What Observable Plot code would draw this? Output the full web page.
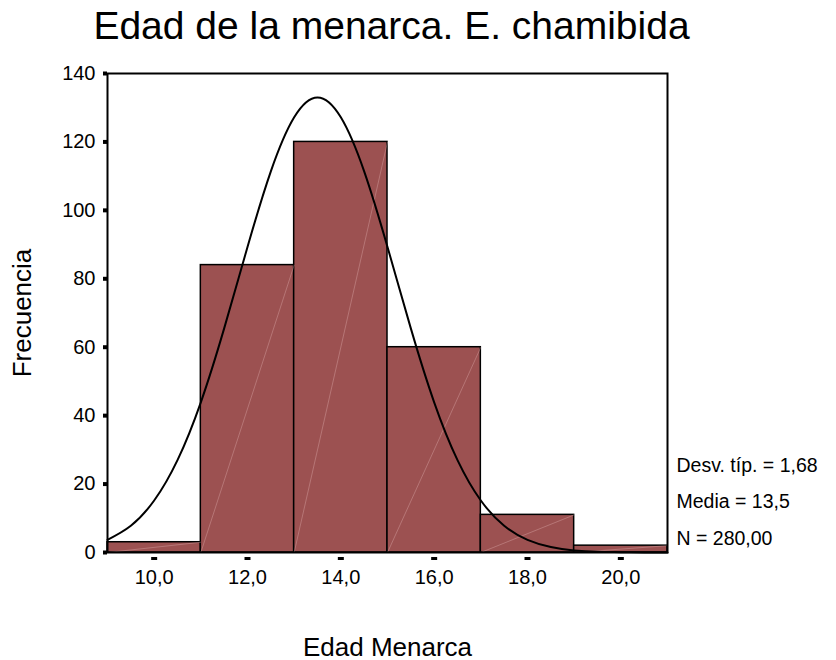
<!DOCTYPE html>
<html>
<head>
<meta charset="utf-8">
<script src="https://cdn.jsdelivr.net/npm/d3@7"></script>
<script src="https://cdn.jsdelivr.net/npm/@observablehq/plot@0.6"></script>
<style>
  html, body { margin: 0; padding: 0; background: #fff; }
  svg { display: block; }
</style>
</head>
<body>
<div id="chart"></div>
<script>
// ---- data ----
const title = "Edad de la menarca. E. chamibida";
const xLabel = "Edad Menarca";
const yLabel = "Frecuencia";
const binStart = [9, 11, 13, 15, 17, 19];
const binEnd = [11, 13, 15, 17, 19, 21];
const counts = [3, 84, 120, 60, 11, 2];
const xTicks = [10, 12, 14, 16, 18, 20];
const yTicks = [0, 20, 40, 60, 80, 100, 120, 140];
const statsLines = ["Desv. típ. = 1,68", "Media = 13,5", "N = 280,00"];
// normal curve
const curveX = [9, 9.5, 10, 10.5, 11, 11.5, 12, 12.5, 13, 13.5, 14, 14.5, 15, 15.5, 16, 16.5, 17, 17.5, 18, 18.5, 19, 19.5, 20, 20.5, 21];
const curveY = [3.7, 7.8, 15.2, 27, 43.9, 65.5, 89.3, 111.4, 127.2, 133, 127.2, 111.4, 89.3, 65.5, 43.9, 27, 15.2, 7.8, 3.7, 1.6, 0.6, 0.2, 0.1, 0, 0];

const bins = binStart.map((s, i) => ({x1: s, x2: binEnd[i], count: counts[i]}));
const curve = curveX.map((x, i) => ({x, y: curveY[i]}));
const font = "'Liberation Sans', Arial, Helvetica, sans-serif";
const fmt = d => d.toFixed(1).replace(".", ",");

const chart = Plot.plot({
  width: 836,
  height: 660,
  marginTop: 73,
  marginLeft: 107,
  marginRight: 169,
  marginBottom: 108,
  style: {fontFamily: font, fontSize: "20px", color: "#000", background: "#fff", overflow: "visible"},
  x: {domain: [9, 21]},
  y: {domain: [0, 140]},
  marks: [
    Plot.rectY(bins, {x1: "x1", x2: "x2", y1: () => 0, y2: "count", fill: "#9c5151", stroke: "#000", strokeWidth: 1.5}),
    Plot.link(bins, {x1: "x1", y1: () => 0, x2: "x2", y2: "count", stroke: "#e6b8b8", strokeWidth: 0.6, strokeOpacity: 0.6}),
    Plot.line(curve, {x: "x", y: "y", stroke: "#000", strokeWidth: 2, curve: "natural"}),
    Plot.frame({stroke: "#000", strokeWidth: 2}),
    Plot.axisY(yTicks, {tickSize: 4, strokeWidth: 4, tickPadding: 8, fontSize: 20, label: yLabel, labelAnchor: "center", labelOffset: 95, labelArrow: false}),
    Plot.axisX(xTicks, {tickSize: 3, dy: 5, strokeWidth: 6, tickFormat: () => "", label: null}),
    Plot.axisX(xTicks, {tickSize: 0, tickPadding: 17, tickFormat: fmt, fontSize: 20, label: xLabel, labelAnchor: "center", labelOffset: 103, labelArrow: false}),
    Plot.text([statsLines.join("\n")], {frameAnchor: "bottom-right", dx: 9, dy: -8, textAnchor: "start", lineAnchor: "bottom", lineHeight: 1.85, fontSize: 19.5, fill: "#000"}),
    Plot.text([title], {frameAnchor: "top", dx: 4, dy: -35, lineAnchor: "bottom", fontSize: 39, fill: "#000"})
  ]
});
// axis label font size
chart.querySelectorAll("g[aria-label='y-axis label'] text, g[aria-label='x-axis label'] text").forEach(t => t.setAttribute("font-size", "26"));
document.getElementById("chart").appendChild(chart);
</script>
</body>
</html>
